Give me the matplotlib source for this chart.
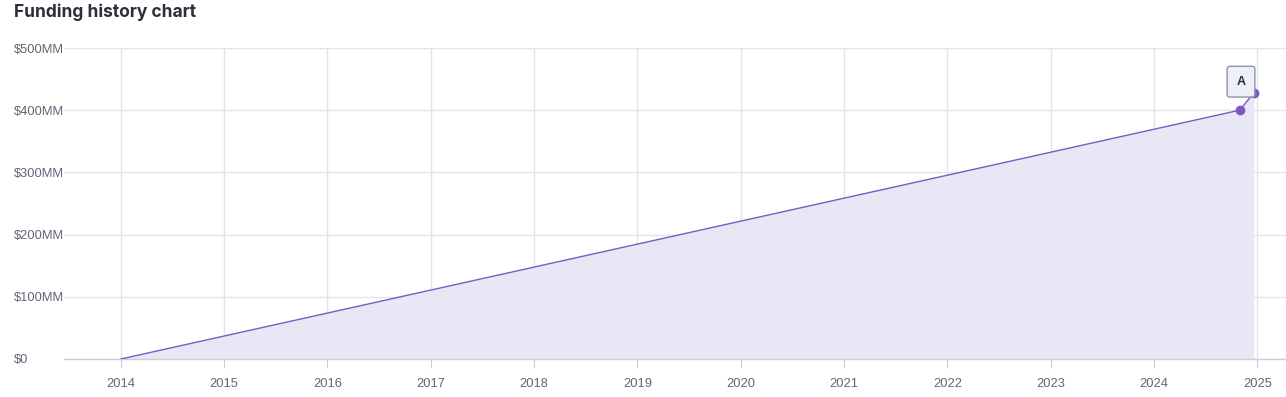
import matplotlib.pyplot as plt
import matplotlib.dates as mdates
from matplotlib.ticker import FixedLocator
from datetime import datetime

# funding rounds (cumulative, in $MM)
dates = [datetime(2014, 1, 1), datetime(2024, 10, 30), datetime(2024, 12, 20)]
amounts = [0, 400, 428]
round_label = "A"

y_ticks = [0, 100, 200, 300, 400, 500]
y_labels = ["$0", "$100MM", "$200MM", "$300MM", "$400MM", "$500MM"]
years = list(range(2014, 2026))

line_col = "#7e57c2"
fill_col = "#e9e6f6"
grid_col = "#e3e5ea"
text_col = "#5f6675"

plt.rcParams["font.family"] = ["Liberation Sans", "DejaVu Sans"]

W, H = 1286, 397
fig = plt.figure(figsize=(W / 100, H / 100), dpi=100)
ax = fig.add_axes([64 / W, (H - 359) / H, (W - 64) / W, (359 - 48) / H])

x = mdates.date2num(dates)
ax.fill_between(x, amounts, 0, color=fill_col, lw=0, zorder=1)
ax.plot(x, amounts, color=line_col, lw=1, zorder=3)
ax.plot(x[1:], amounts[1:], "o", color=line_col, ms=6, zorder=4)

ax.annotate(round_label, xy=(x[-1], amounts[-1]), xytext=(-9.4, 8),
            textcoords="offset points", ha="center", va="center",
            fontsize=9, fontweight="bold", color="#2b2f38",
            bbox=dict(boxstyle="round,pad=0.75,rounding_size=0.2",
                      fc="#edf1f7", ec="#8a96a6", lw=1), zorder=5)

x0 = mdates.date2num(datetime(2013, 6, 14))
x1 = mdates.date2num(datetime(2025, 4, 12))
ax.set_xlim(x0, x1)
ax.set_ylim(0, 500)

year_pos = [mdates.date2num(datetime(y, 1, 1)) for y in years]
ax.xaxis.set_major_locator(FixedLocator(year_pos))
ax.set_xticklabels([str(y) for y in years])
ax.set_yticks(y_ticks)
ax.set_yticklabels(y_labels)

ax.grid(True, color=grid_col, lw=1, zorder=0)
ax.set_axisbelow(True)
for s in ["top", "right", "left"]:
    ax.spines[s].set_visible(False)
ax.spines["bottom"].set_color("#c9cfd8")
ax.spines["bottom"].set_linewidth(1)

ax.tick_params(axis="x", length=6.5, color="#c9cfd8", labelsize=9.3,
               labelcolor=text_col, pad=7)
ax.tick_params(axis="y", length=0, labelsize=9.3, labelcolor=text_col, pad=36)
for lab in ax.get_yticklabels():
    lab.set_horizontalalignment("left")

fig.text(14 / W, 1 - 12 / H, "Funding history chart", fontsize=12.5,
         fontweight="bold", family="Inter", color="#2d2f38",
         va="center", ha="left")

fig.savefig("out.png", dpi=100)
